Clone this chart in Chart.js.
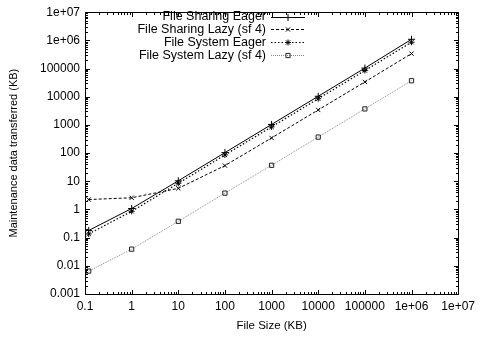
<!DOCTYPE html>
<html><head><meta charset="utf-8">
<script src="https://cdn.jsdelivr.net/npm/chart.js@4.4.1/dist/chart.umd.min.js"></script>
<style>html,body{margin:0;padding:0;background:#fff}#wrap{width:480px;height:337px}</style>
</head><body><div id="wrap"><canvas id="c" width="480" height="337"></canvas></div>
<script>
const fileSizes = [0.12, 1, 10, 100, 1000, 10000, 100000, 1000000];
const sharingEager = [0.18, 1.08, 10.4, 104, 1040, 10400, 104000, 1090000];
const sharingLazy = [2.25, 2.6, 5.6, 36, 345, 3400, 33500, 340000];
const systemEager = [0.135, 0.86, 8.5, 86, 850, 8500, 85000, 860000];
const systemLazy = [0.0065, 0.039, 0.38, 3.8, 37, 370, 3700, 37000];
const seriesNames = ["File Sharing Eager", "File Sharing Lazy (sf 4)", "File System Eager", "File System Lazy (sf 4)"];
const xTicks = [0.1, 1, 10, 100, 1000, 10000, 100000, 1e6, 1e7];
const xTickLabels = ["0.1", "1", "10", "100", "1000", "10000", "100000", "1e+06", "1e+07"];
const yTicks = [0.001, 0.01, 0.1, 1, 10, 100, 1000, 10000, 100000, 1e6, 1e7];
const yTickLabels = ["0.001", "0.01", "0.1", "1", "10", "100", "1000", "10000", "100000", "1e+06", "1e+07"];

const FONT = "'Liberation Sans', Arial, sans-serif";
const toPts = arr => arr.map((v, i) => ({x: fileSizes[i], y: v}));

const styles = [
  {color: '#000', dash: [], width: 1, point: 'cross', pr: 3.5, fillc: '#000', strokec: '#000'},
  {color: '#000', dash: [3, 2], width: 1, point: 'crossRot', pr: 3, fillc: '#000', strokec: '#000'},
  {color: '#000', dash: [1.5, 2], width: 1.2, point: 'star', pr: 3, fillc: '#000', strokec: '#000'},
  {color: '#888', dash: [1, 1], width: 1, point: 'rect', pr: 3, fillc: 'rgba(0,0,0,0)', strokec: '#222'}
];
const dataArrs = [sharingEager, sharingLazy, systemEager, systemLazy];

const datasets = dataArrs.map((arr, i) => ({
  label: seriesNames[i],
  data: toPts(arr),
  borderColor: styles[i].color,
  borderWidth: styles[i].width,
  borderDash: styles[i].dash,
  pointStyle: styles[i].point,
  pointRadius: styles[i].pr,
  pointBorderColor: styles[i].strokec,
  pointBackgroundColor: styles[i].fillc,
  pointBorderWidth: 1,
  fill: false,
  clip: false,
  tension: 0
}));

const frame = {
  id: 'frame',
  afterDatasetsDraw(chart) {
    const ctx = chart.ctx, a = chart.chartArea;
    const xs = chart.scales.x, ys = chart.scales.y;
    ctx.save();
    ctx.strokeStyle = '#000';
    ctx.lineWidth = 1;
    ctx.setLineDash([]);
    ctx.beginPath();
    const L = Math.round(a.left) + 0.5, R = Math.round(a.right) + 0.5, T = Math.round(a.top) + 0.5, B = Math.round(a.bottom) + 0.5;
    ctx.rect(L, T, R - L, B - T);
    for (let d = -1; d <= 7; d++) {
      for (let m = 1; m <= 9; m++) {
        const v = m * Math.pow(10, d);
        if (v > 1e7 * 1.0001) break;
        const px = Math.round(xs.getPixelForValue(v)) + 0.5;
        const len = m === 1 ? 4.5 : 2.5;
        ctx.moveTo(px, B); ctx.lineTo(px, B - len);
        ctx.moveTo(px, T); ctx.lineTo(px, T + len);
      }
    }
    for (let d = -3; d <= 7; d++) {
      for (let m = 1; m <= 9; m++) {
        const v = m * Math.pow(10, d);
        if (v > 1e7 * 1.0001) break;
        const py = Math.round(ys.getPixelForValue(v)) + 0.5;
        const len = m === 1 ? 4.5 : 2.5;
        ctx.moveTo(L, py); ctx.lineTo(L + len, py);
        ctx.moveTo(R, py); ctx.lineTo(R - len, py);
      }
    }
    ctx.stroke();
    // legend
    ctx.font = '12.5px ' + FONT;
    ctx.textAlign = 'right';
    ctx.textBaseline = 'middle';
    seriesNames.forEach((name, i) => {
      const y = 16.5 + i * 12.9;
      const yy = Math.round(y) + 0.5;
      ctx.fillStyle = '#000';
      ctx.fillText(name, 266, y);
      const st = styles[i];
      ctx.strokeStyle = st.color;
      ctx.lineWidth = st.width;
      ctx.setLineDash(st.dash);
      ctx.beginPath();
      ctx.moveTo(271, yy);
      ctx.lineTo(305, yy);
      ctx.stroke();
      ctx.setLineDash([]);
      ctx.strokeStyle = st.strokec;
      ctx.fillStyle = st.fillc;
      ctx.lineWidth = 1;
      Chart.helpers.drawPoint(ctx, {pointStyle: st.point, radius: st.pr, borderWidth: 1, rotation: 0}, 288, yy);
    });
    ctx.restore();
  }
};

new Chart(document.getElementById('c'), {
  type: 'line',
  data: {datasets},
  options: {
    responsive: false,
    animation: false,
    devicePixelRatio: 1,
    layout: {padding: {top: 8, right: 17, left: 0, bottom: 0}},
    plugins: {legend: {display: false}, tooltip: {enabled: false}},
    scales: {
      x: {
        type: 'logarithmic', min: 0.1, max: 1e7,
        afterBuildTicks: s => { s.ticks = xTicks.map(v => ({value: v})); },
        afterFit: s => { s.height = 43; },
        grid: {display: false, drawTicks: false},
        border: {display: false},
        ticks: {
          autoSkip: false, maxRotation: 0, padding: 5, color: '#000',
          font: {family: FONT, size: 12},
          callback: (v) => { const i = xTicks.findIndex(t => Math.abs(t - v) / t < 1e-6); return i >= 0 ? xTickLabels[i] : ''; }
        },
        title: {display: true, text: 'File Size (KB)', color: '#000', font: {family: FONT, size: 11.5}, padding: {top: 2, bottom: 4}}
      },
      y: {
        type: 'logarithmic', min: 0.001, max: 1e7,
        afterBuildTicks: s => { s.ticks = yTicks.map(v => ({value: v})); },
        afterFit: s => { s.width = 85; },
        grid: {display: false, drawTicks: false},
        border: {display: false},
        ticks: {
          autoSkip: false, padding: 5, color: '#000',
          font: {family: FONT, size: 12},
          callback: (v) => { const i = yTicks.findIndex(t => Math.abs(t - v) / t < 1e-6); return i >= 0 ? yTickLabels[i] : ''; }
        },
        title: {display: true, text: 'Maintenance data transferred (KB)', color: '#000', font: {family: FONT, size: 11}, padding: {top: 7, bottom: 0}}
      }
    }
  },
  plugins: [frame]
});
</script>
</body></html>
